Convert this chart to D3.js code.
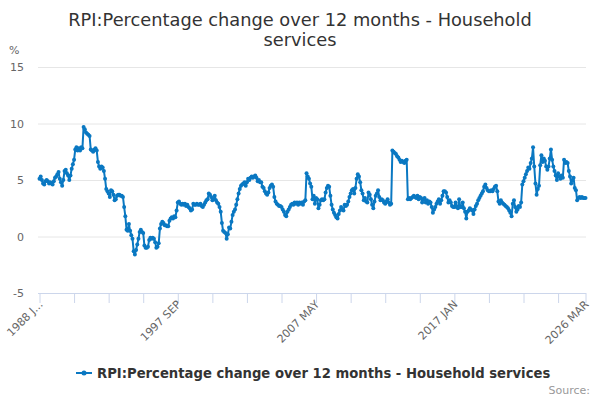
<!DOCTYPE html>
<html>
<head>
    <meta charset="utf-8">
    <script src="https://d3js.org/d3.v7.min.js"></script>
    <style>
        body { margin: 0; background: #fff; }
        text { font-family: "DejaVu Sans", Verdana, sans-serif; }
    </style>
</head>
<body>
    <svg width="600" height="400"></svg>

    <script>
        const width = 600, height = 400;
        const svg = d3.select("svg");

        // Monthly values, 1988 JAN .. 2026 MAR (%)
        const values = [
            5.1, 5.3, 5.0, 4.7, 4.6, 4.9, 5.0, 4.9, 4.7, 4.8, 4.7, 4.6, // 1988
            4.9, 5.2, 5.3, 5.5, 5.7, 5.1, 4.8, 4.5, 5.0, 5.8, 5.9, 5.6, // 1989
            5.4, 5.0, 5.4, 6.0, 6.4, 6.8, 7.7, 7.9, 7.6, 7.8, 7.6, 7.9, // 1990
            7.8, 9.7, 9.5, 9.2, 9.1, 9.0, 8.9, 7.7, 7.6, 7.5, 7.7, 7.8, // 1991
            7.6, 6.6, 6.2, 6.0, 6.2, 6.1, 5.8, 5.1, 4.2, 4.0, 3.8, 3.5, // 1992
            4.1, 4.0, 3.7, 3.2, 3.3, 3.6, 3.7, 3.7, 3.6, 3.6, 3.5, 2.6, // 1993
            1.8, 0.6, 0.5, 1.1, 0.5, 0.1, -0.2, -1.3, -1.6, -1.2, -0.7, -0.2, // 1994
            0.4, 0.6, 0.4, 0.3, -0.8, -1.0, -1.0, -0.9, -0.3, -0.1, -0.2, -0.1, // 1995
            -0.2, -0.5, -1.0, -0.9, -0.6, 0.7, 1.1, 1.3, 1.2, 1.0, 1.0, 0.9, // 1996
            0.9, 1.4, 1.6, 1.7, 1.6, 1.8, 1.7, 2.3, 3.0, 3.1, 2.9, 2.8, // 1997
            2.9, 2.8, 2.9, 2.7, 2.8, 2.6, 2.5, 2.3, 2.4, 2.9, 2.8, 2.8, // 1998
            2.9, 2.8, 2.8, 2.9, 2.7, 2.6, 2.8, 3.0, 3.2, 3.3, 3.8, 3.7, // 1999
            3.5, 3.2, 3.3, 3.6, 3.2, 3.0, 2.9, 2.6, 2.2, 1.2, 0.5, 0.4, // 2000
            0.3, -0.2, 0.2, 0.8, 0.7, 1.3, 1.9, 2.2, 2.4, 2.8, 3.3, 3.8, // 2001
            4.2, 4.5, 4.6, 4.7, 4.8, 4.5, 4.8, 5.1, 5.0, 5.2, 5.3, 5.2, // 2002
            5.3, 5.4, 5.2, 4.9, 5.0, 4.8, 4.8, 4.4, 4.3, 4.0, 3.8, 3.7, // 2003
            3.9, 4.3, 4.5, 4.6, 4.4, 3.5, 3.1, 2.9, 2.8, 2.7, 2.7, 2.6, // 2004
            2.4, 2.2, 1.9, 1.8, 2.2, 2.4, 2.6, 2.8, 2.9, 2.8, 3.0, 2.9, // 2005
            3.0, 2.8, 3.0, 2.9, 3.0, 2.8, 3.1, 3.2, 5.6, 5.3, 5.1, 4.7, // 2006
            4.4, 3.3, 3.6, 2.9, 3.4, 3.3, 2.5, 2.8, 3.2, 3.3, 3.2, 3.3, // 2007
            3.9, 4.3, 4.5, 4.4, 3.6, 2.8, 2.4, 2.1, 1.9, 1.7, 1.6, 2.0, // 2008
            2.3, 2.6, 2.4, 2.3, 2.8, 2.7, 2.8, 3.1, 3.5, 3.8, 4.1, 4.2, // 2009
            3.8, 4.3, 5.1, 5.5, 5.3, 4.8, 4.1, 3.8, 3.2, 3.4, 3.1, 3.0, // 2010
            3.9, 3.7, 3.3, 2.8, 2.5, 3.1, 3.6, 3.8, 4.1, 3.5, 3.2, 3.3, // 2011
            3.2, 3.0, 2.9, 3.1, 3.3, 3.0, 2.8, 2.9, 7.6, 7.5, 7.4, 7.3, // 2012
            7.1, 7.0, 6.8, 6.6, 6.7, 6.6, 6.5, 6.7, 6.8, 3.3, 3.4, 3.3, // 2013
            3.4, 3.5, 3.6, 3.5, 3.4, 3.6, 3.3, 3.5, 3.4, 3.0, 3.3, 3.4, // 2014
            3.0, 3.2, 2.9, 3.1, 3.0, 2.6, 2.1, 2.4, 2.6, 2.9, 3.1, 3.3, // 2015
            2.9, 3.2, 3.6, 4.0, 4.0, 3.9, 3.5, 3.0, 3.2, 3.0, 2.7, 2.6, // 2016
            2.6, 3.0, 2.6, 2.5, 3.3, 2.6, 2.6, 3.0, 2.5, 2.2, 1.6, 2.2, // 2017
            2.3, 2.5, 2.4, 2.3, 2.0, 2.4, 2.7, 2.9, 3.2, 3.4, 3.6, 3.8, // 2018
            4.0, 4.4, 4.6, 4.3, 4.1, 4.0, 4.0, 4.1, 4.0, 4.2, 4.4, 4.5, // 2019
            4.0, 3.1, 2.9, 3.2, 3.0, 2.9, 2.8, 2.7, 2.6, 2.5, 2.3, 2.1, // 2020
            1.8, 2.9, 3.2, 2.6, 2.2, 2.4, 2.7, 2.6, 3.0, 4.6, 4.9, 5.2, // 2021
            5.5, 5.8, 6.1, 6.0, 6.5, 6.9, 7.9, 6.2, 4.7, 3.7, 4.2, 4.5, // 2022
            6.3, 7.2, 6.6, 6.9, 6.7, 6.2, 5.9, 6.2, 6.9, 7.7, 6.8, 6.2, // 2023
            5.8, 5.4, 5.0, 5.6, 5.3, 5.1, 5.4, 5.2, 6.8, 6.5, 6.6, 6.5, // 2024
            5.8, 5.3, 4.7, 5.0, 5.2, 4.3, 4.1, 3.2, 3.4, 3.5, 3.4, 3.5, // 2025
            3.4, 3.4, 3.4                                               // 2026
        ];

        const startYear = 1988;
        const monthNames = ["JAN", "FEB", "MAR", "APR", "MAY", "JUN", "JUL", "AUG", "SEP", "OCT", "NOV", "DEC"];
        const categories = values.map((v, i) => (startYear + Math.floor(i / 12)) + " " + monthNames[i % 12]);

        const yTicks = [-5, 0, 5, 10, 15];
        const labelIndex = [0, 116, 232, 348, 458];
        const labelText = ["1988 J...", "1997 SEP", "2007 MAY", "2017 JAN", "2026 MAR"];

        const seriesName = "RPI:Percentage change over 12 months - Household services";
        const lineColor = "#0a78c2";

        // scales
        const x = d3.scaleLinear().domain([0, values.length - 1]).range([39.5, 585.5]);
        const y = d3.scaleLinear().domain([-5, 15]).range([293, 67]);

        // title
        const title = svg.append("text")
            .attr("x", width / 2)
            .attr("text-anchor", "middle")
            .attr("fill", "#333")
            .attr("font-size", "17.8px");
        title.append("tspan").attr("x", width / 2).attr("y", 26).text("RPI:Percentage change over 12 months - Household");
        title.append("tspan").attr("x", width / 2).attr("y", 46).text("services");

        svg.append("text")
            .attr("x", 9).attr("y", 54)
            .attr("fill", "#666").attr("font-size", "11px")
            .text("%");

        // gridlines + y labels
        const yAxis = d3.axisLeft(y).tickValues(yTicks)
            .tickSize(-(586 - 38)).tickPadding(14)
            .tickFormat(d => String(d));
        const gy = svg.append("g")
            .attr("transform", "translate(38,0)")
            .call(yAxis);
        gy.select(".domain").remove();
        gy.selectAll(".tick line").attr("stroke", "#e6e6e6");
        gy.selectAll(".tick line").filter(d => d === -5).remove();
        gy.selectAll(".tick text")
            .attr("fill", "#666").attr("font-size", "11px")
            .attr("font-family", "DejaVu Sans, sans-serif");

        // x axis
        const tickVals = d3.range(0, values.length, 29).concat([values.length - 1]);
        const xAxis = d3.axisBottom(x).tickValues(tickVals).tickSize(10).tickFormat("");
        const gx = svg.append("g")
            .attr("transform", `translate(0,${y(-5)})`)
            .call(xAxis);
        gx.select(".domain").attr("stroke", "#ccd6eb").attr("d", `M38,0.5H586`);
        gx.selectAll(".tick line").attr("stroke", "#ccd6eb");

        svg.selectAll("text.xlabel")
            .data(labelIndex)
            .enter().append("text")
            .attr("class", "xlabel")
            .attr("transform", (d, i) => `translate(${x(d) + 4},${y(-5) + 12}) rotate(-45)`)
            .attr("text-anchor", "end")
            .attr("fill", "#666")
            .attr("font-size", "11px")
            .text((d, i) => labelText[i]);

        // series
        const line = d3.line()
            .x((d, i) => x(i))
            .y(d => y(d));

        svg.append("path")
            .datum(values)
            .attr("fill", "none")
            .attr("stroke", lineColor)
            .attr("stroke-width", 2)
            .attr("stroke-linejoin", "round")
            .attr("d", line);

        svg.selectAll("circle.pt")
            .data(values)
            .enter().append("circle")
            .attr("class", "pt")
            .attr("cx", (d, i) => x(i))
            .attr("cy", d => y(d))
            .attr("r", 2)
            .attr("fill", lineColor);

        // legend
        const legend = svg.append("g").attr("transform", "translate(76,373)");
        legend.append("line")
            .attr("x1", 0).attr("x2", 16).attr("y1", 0).attr("y2", 0)
            .attr("stroke", lineColor).attr("stroke-width", 2);
        legend.append("circle").attr("cx", 8).attr("cy", 0).attr("r", 2.5).attr("fill", lineColor);
        legend.append("text")
            .attr("x", 21).attr("y", 4.5)
            .attr("fill", "#333").attr("font-size", "13.2px").attr("font-weight", "bold")
            .text(seriesName);

        svg.append("text")
            .attr("x", 590).attr("y", 394)
            .attr("text-anchor", "end")
            .attr("fill", "#999").attr("font-size", "11px")
            .text("Source:");
    </script>
</body>
</html>
